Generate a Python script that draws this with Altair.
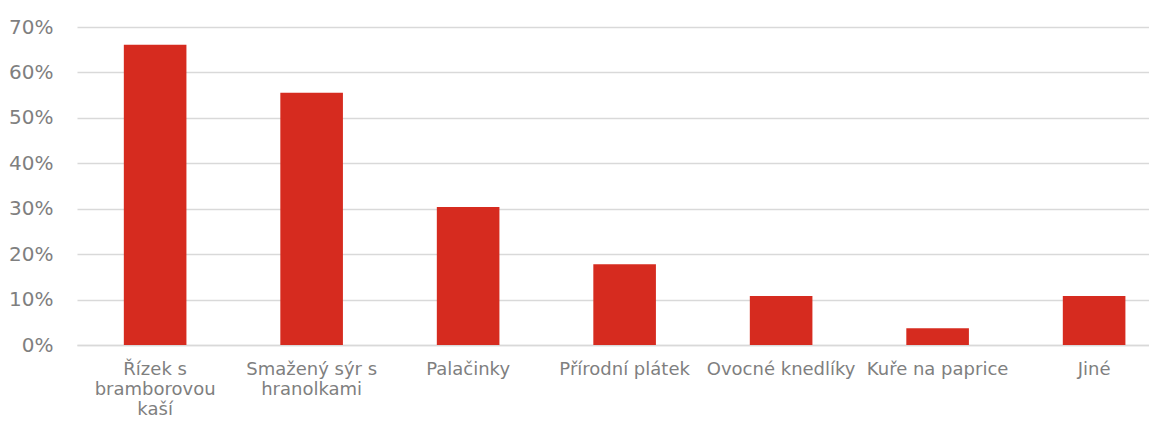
import altair as alt
import pandas as pd

categories = [
    "Řízek s\nbramborovou\nkaší",
    "Smažený sýr s\nhranolkami",
    "Palačinky",
    "Přírodní plátek",
    "Ovocné knedlíky",
    "Kuře na paprice",
    "Jiné",
]
values = [0.661, 0.555, 0.304, 0.178, 0.108, 0.037, 0.108]
y_ticks = [0, 0.1, 0.2, 0.3, 0.4, 0.5, 0.6, 0.7]

df = pd.DataFrame({"kategorie": categories, "podil": values})

FONT = "DejaVu Sans"
GREY = "#7f7f7f"

chart = (
    alt.Chart(df)
    .mark_bar(color="#D62B1F")
    .encode(
        x=alt.X(
            "kategorie:N",
            sort=categories,
            title=None,
            scale=alt.Scale(paddingInner=0.6, paddingOuter=0.225, align=0.665),
            axis=alt.Axis(
                labelAngle=0,
                labelExpr="split(datum.label, '\\n')",
                labelFont=FONT,
                labelFontSize=18,
                labelColor=GREY,
                labelLineHeight=20,
                labelPadding=15,
                labelLimit=300,
                labelOverlap=False,
                ticks=False,
                domain=True,
                domainColor="#d9d9d9",
                domainWidth=1.5,
                grid=False,
            ),
        ),
        y=alt.Y(
            "podil:Q",
            title=None,
            scale=alt.Scale(domain=[0, 0.7], nice=False),
            axis=alt.Axis(
                values=y_ticks,
                format=".0%",
                labelFont=FONT,
                labelFontSize=20,
                labelColor=GREY,
                labelPadding=24,
                ticks=False,
                domain=False,
                grid=True,
                gridColor="#d9d9d9",
                gridWidth=1.5,
            ),
        ),
    )
    .properties(width=1072, height=318, padding={"left": 0, "top": 9, "right": 0, "bottom": 0})
    .configure_view(stroke=None)
)

chart.save("out.html", embed_options={"renderer": "svg", "actions": False})
